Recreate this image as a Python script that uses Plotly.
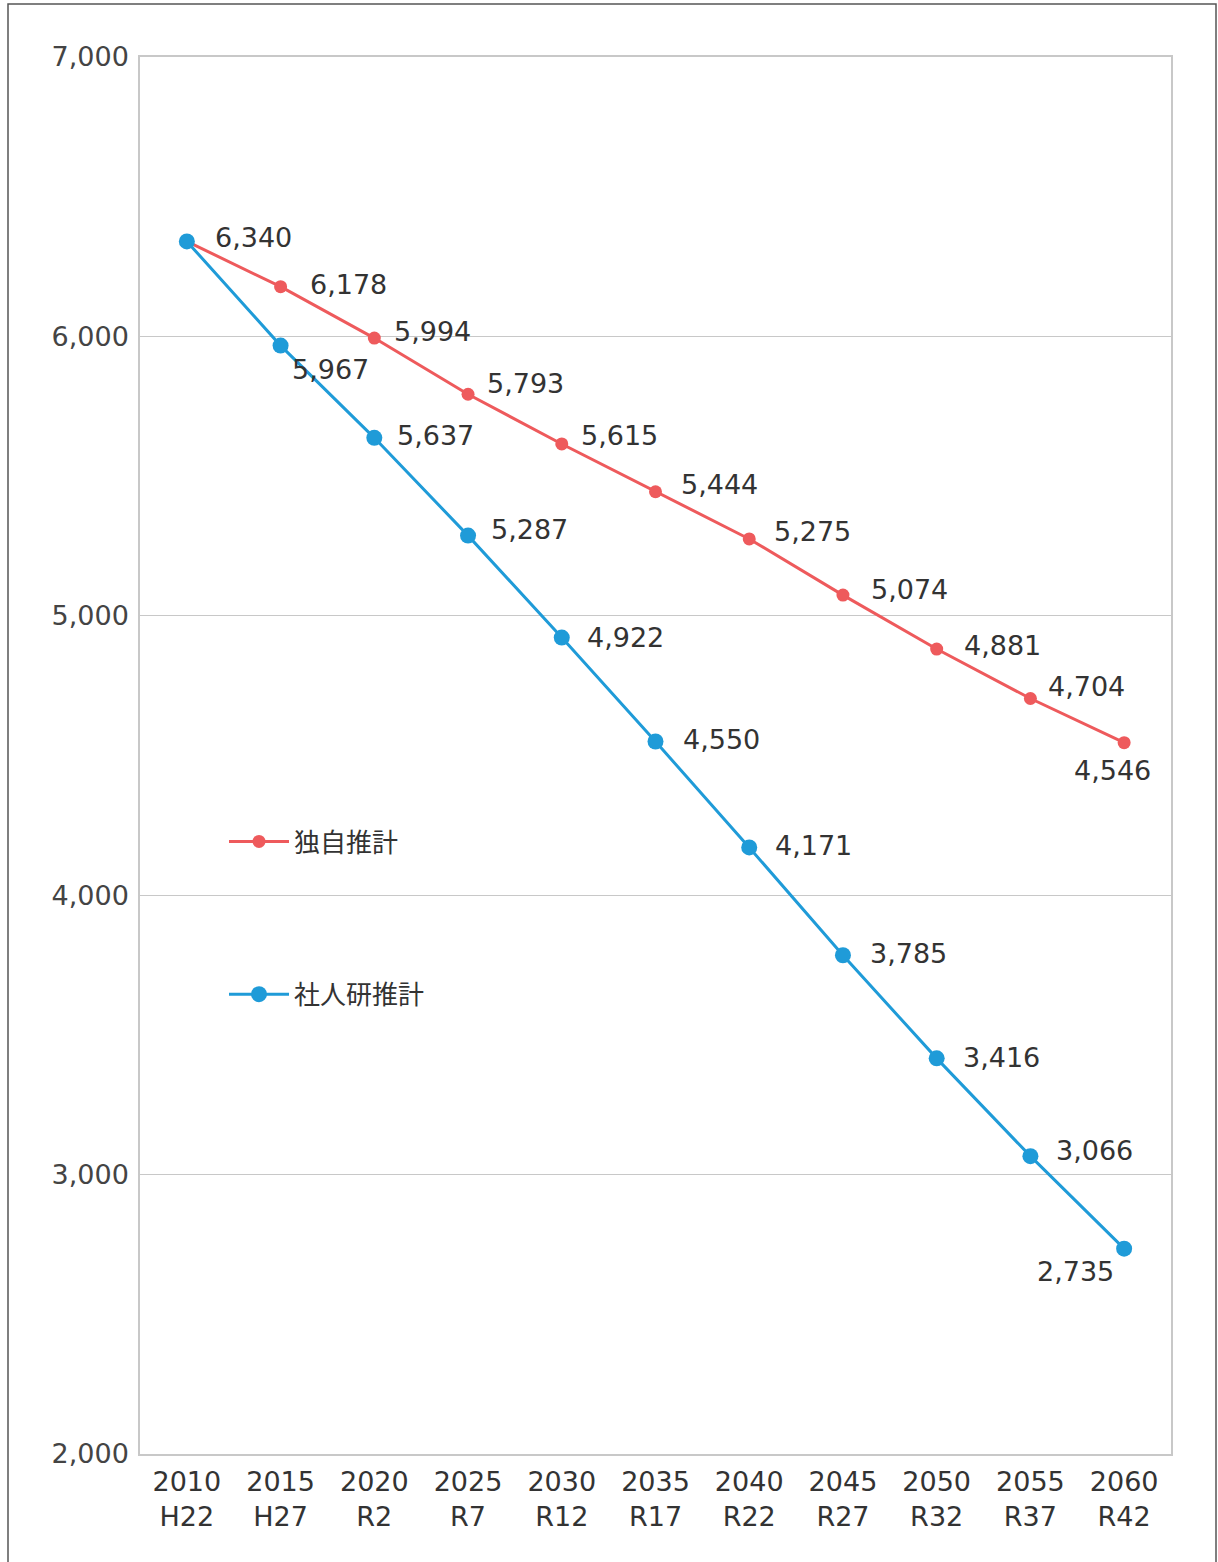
import plotly.graph_objects as go

# ---- data ----
years = ["2010", "2015", "2020", "2025", "2030", "2035", "2040", "2045", "2050", "2055", "2060"]
eras = ["H22", "H27", "R2", "R7", "R12", "R17", "R22", "R27", "R32", "R37", "R42"]
own_name = "独自推計"
own_values = [6340, 6178, 5994, 5793, 5615, 5444, 5275, 5074, 4881, 4704, 4546]
ipss_name = "社人研推計"
ipss_values = [6340, 5967, 5637, 5287, 4922, 4550, 4171, 3785, 3416, 3066, 2735]
y_ticks = [2000, 3000, 4000, 5000, 6000, 7000]

# ---- styles ----
RED = "#ee5a5c"
BLUE = "#1f9bd8"
TEXT = "#333333"
GRID = "#c8c8c8"
FONT = "DejaVu Sans, Noto Sans CJK JP"
JFONT = "Noto Sans CJK JP"
FS = 27

# label offsets in pixels (dx, dy, anchor); None = no label
own_label_pos = [(26, -4, "left"), (27, -2, "left"), (18, -7, "left"), (17, -11, "left"),
                 (17, -8, "left"), (23, -7, "left"), (23, -7, "left"), (26, -6, "left"),
                 (25, -4, "left"), (16, -12, "left"), (-12, 28, "center")]
ipss_label_pos = [None, (9, 24, "left"), (21, -2, "left"), (21, -6, "left"), (23, 0, "left"),
                  (25, -2, "left"), (24, -2, "left"), (25, -2, "left"), (24, -1, "left"),
                  (24, -6, "left"), (-49, 23, "center")]

cats = [f"{y}<br>{e}" for y, e in zip(years, eras)]

fig = go.Figure()
fig.add_trace(go.Scatter(x=cats, y=own_values, name=own_name, mode="lines+markers",
                         line=dict(color=RED, width=3), marker=dict(color=RED, size=13),
                         legendgroup="a"))
fig.add_trace(go.Scatter(x=cats, y=ipss_values, name=ipss_name, mode="lines+markers",
                         line=dict(color=BLUE, width=3), marker=dict(color=BLUE, size=16),
                         legendgroup="b"))

annots = []
for vals, pos in ((own_values, own_label_pos), (ipss_values, ipss_label_pos)):
    for c, v, p in zip(cats, vals, pos):
        if p is None:
            continue
        dx, dy, anc = p
        annots.append(dict(x=c, y=v, xref="x", yref="y", text=f"{v:,}", showarrow=False,
                           xanchor=anc, yanchor="middle", xshift=dx, yshift=-dy,
                           font=dict(family=FONT, size=FS, color=TEXT)))

# plot area 140..1171 x, 57..1454 y
L, R, T, B = 140, 1171, 57, 1454
pw, ph = R - L, B - T
def px(x):
    return (x - L) / pw
def py(y):
    return (B - y) / ph

fig.update_layout(
    width=1218, height=1562,
    margin=dict(l=L, r=1218 - R, t=T, b=1562 - B),
    paper_bgcolor="white", plot_bgcolor="white",
    font=dict(family=FONT, size=FS, color=TEXT),
    annotations=annots,
    showlegend=True,
    legend=dict(x=px(224), y=py(818), xanchor="left", yanchor="top",
                bgcolor="rgba(0,0,0,0)", tracegroupgap=116,
                font=dict(family=JFONT, size=26, color=TEXT), itemwidth=60),
    shapes=[dict(type="rect", xref="paper", yref="paper",
                 x0=px(8), x1=px(1216), y0=py(1600), y1=py(4),
                 line=dict(color="#555555", width=1.5), layer="below")],
    xaxis=dict(type="category", range=[-0.5, len(cats) - 0.5], showgrid=False,
               showline=True, linecolor=GRID, linewidth=1.5, mirror=True,
               ticks="", ticklabelstandoff=3,
               tickfont=dict(family=FONT, size=FS, color=TEXT)),
    yaxis=dict(range=[2000, 7000], tickvals=y_ticks, ticktext=[f"{t:,}" for t in y_ticks],
               showgrid=True, gridcolor=GRID, gridwidth=1.2,
               showline=True, linecolor=GRID, linewidth=1.5, mirror=True,
               ticks="", ticklabelstandoff=4, zeroline=False,
               tickfont=dict(family=FONT, size=FS, color="#444444")),
)

fig.write_html("out.html")
